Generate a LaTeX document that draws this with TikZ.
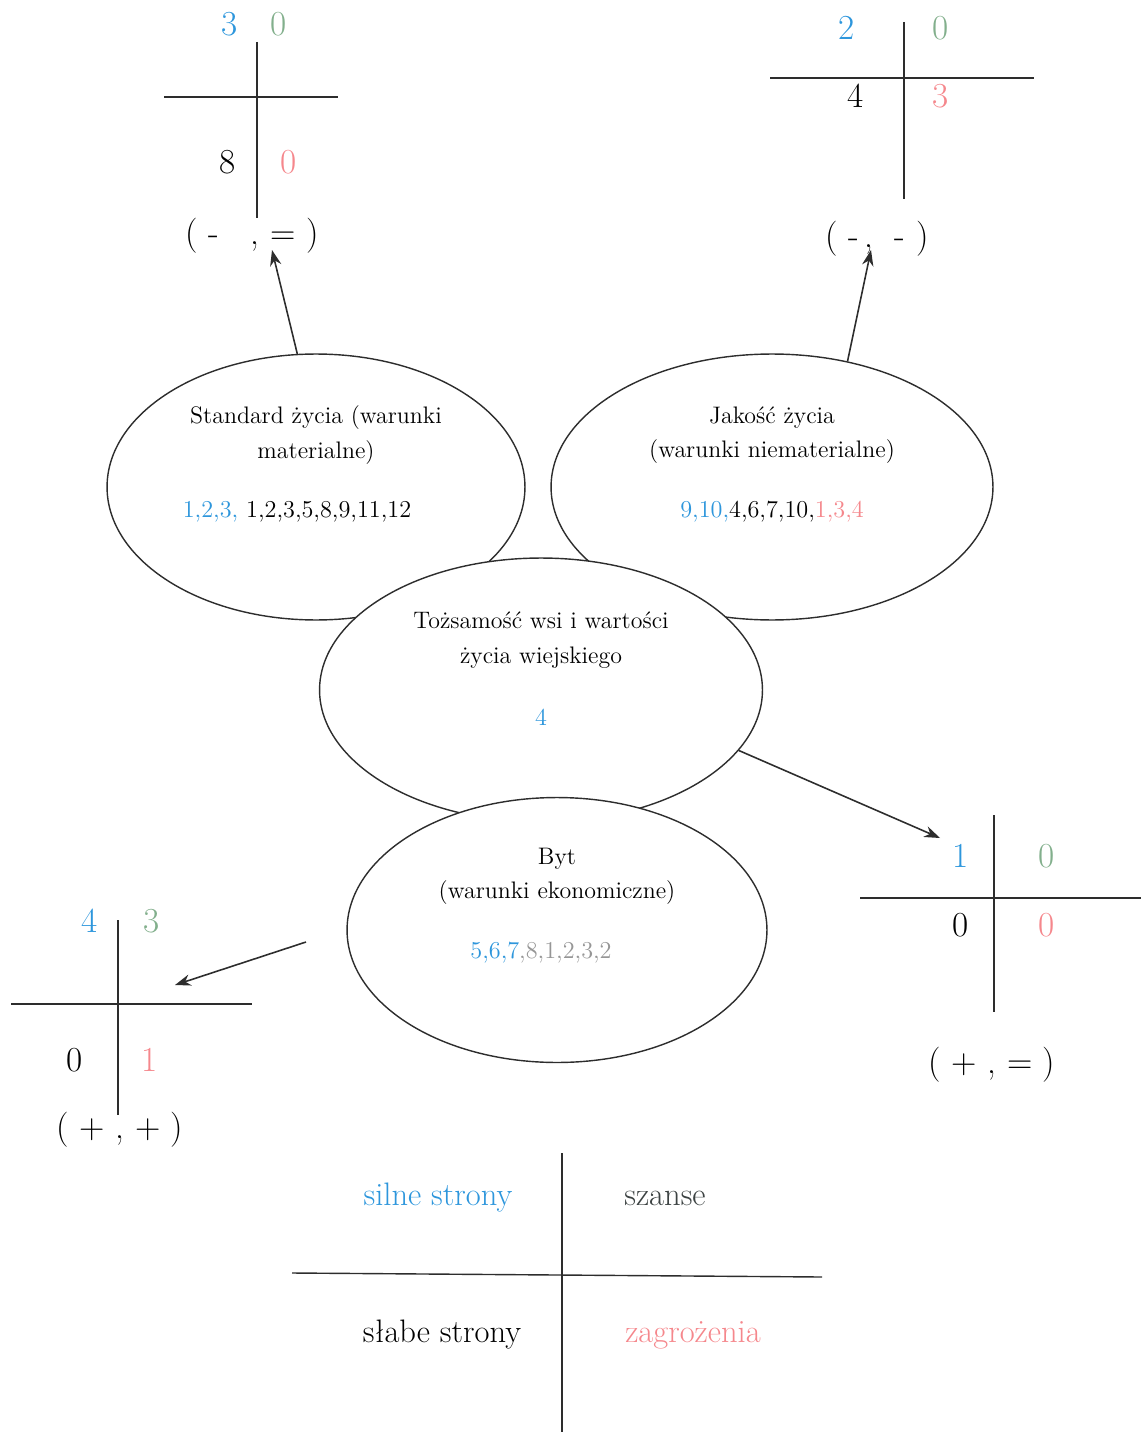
\documentclass[tikz,border=0pt]{standalone}
\usepackage{fontspec}
\usepackage{xcolor}
\definecolor{swotblue}{RGB}{45,150,220}
\definecolor{swotgreen}{RGB}{130,175,140}
\definecolor{swotpink}{RGB}{245,135,140}
\definecolor{swotgray}{RGB}{150,150,150}
\definecolor{swotdark}{RGB}{60,66,66}
\definecolor{linec}{RGB}{45,45,45}
\usetikzlibrary{shapes.geometric,arrows.meta}
\tikzset{
  oval/.style={ellipse, draw=linec, line width=0.8pt, fill=white, inner sep=0pt},
  otitle/.style={align=center, inner sep=0pt, font=\fontsize{13.6}{19.5}\selectfont},
  onums/.style={inner sep=0pt, font=\fontsize{13.8}{16}\selectfont},
  qnum/.style={inner sep=0pt, font=\fontsize{20}{24}\selectfont},
  qline/.style={line width=0.8pt, draw=linec},
  tuple/.style={inner sep=1pt, font=\fontsize{20}{24}\selectfont},
  legend/.style={inner sep=0pt, font=\fontsize{18.5}{22}\selectfont},
}

\begin{document}
\begin{tikzpicture}[
  x=0.02cm, y=-0.02cm,
  arr/.style={-{Stealth[length=9pt,width=6.5pt]}, line width=0.9pt, linec}
]
  \useasboundingbox (0,0) rectangle (1141,1432);

  % ellipses, later ones cover the lower parts of earlier ones
  \node[oval, minimum width=8.36cm, minimum height=5.32cm] (std) at (316,487) {};
  \node[oval, minimum width=8.84cm, minimum height=5.32cm] (jak) at (772,487) {};
  \node[oval, minimum width=8.86cm, minimum height=5.28cm] (toz) at (541,690) {};
  \node[oval, minimum width=8.40cm, minimum height=5.30cm] (byt) at (557,930) {};

  \node[otitle] (stdT) at (316,435) {Standard życia (warunki\\materialne)};
  \node[onums] (stdN) at (297,512) {\textcolor{swotblue}{1,2,3,} 1,2,3,5,8,9,11,12};
  \node[otitle] (jakT) at (772,435) {Jakość życia\\(warunki niematerialne)};
  \node[onums] (jakN) at (772,512) {\textcolor{swotblue}{9,10,}4,6,7,10,\textcolor{swotpink}{1,3,4}};
  \node[otitle] (tozT) at (541,640) {Tożsamość wsi i wartości\\życia wiejskiego};
  \node[onums, text=swotblue] (tozN) at (541,717) {4};
  \node[otitle] (bytT) at (557,876) {Byt\\(warunki ekonomiczne)};
  \node[onums] (bytN) at (541,953) {\textcolor{swotblue}{5,6,7}\textcolor{swotgray}{,8,1,2,3,2}};

  % cross top left
  \draw[qline] (257,42) -- (257,218);
  \draw[qline] (164,97) -- (338,97);
  \node[qnum, text=swotblue] (a1) at (230,24) {3};
  \node[qnum, text=swotgreen] (a2) at (279,24) {0};
  \node[qnum] (a3) at (228,162) {8};
  \node[qnum, text=swotpink] (a4) at (289,162) {0};
  \node[tuple] (tupA) at (252,236) {(\ -\ \ \ ,\ =\ )};

  % cross top right
  \draw[qline] (904,22) -- (904,199);
  \draw[qline] (770,78) -- (1034,78);
  \node[qnum, text=swotblue] (b1) at (847,28) {2};
  \node[qnum, text=swotgreen] (b2) at (941,28) {0};
  \node[qnum] (b3) at (856,96) {4};
  \node[qnum, text=swotpink] (b4) at (941,96) {3};
  \node[tuple] (tupB) at (877,239) {(\ -\,,\ \ -\ )};

  % cross right
  \draw[qline] (994,815) -- (994,1012);
  \draw[qline] (860,898) -- (1141,898);
  \node[qnum, text=swotblue] (c1) at (961,856) {1};
  \node[qnum, text=swotgreen] (c2) at (1047,856) {0};
  \node[qnum] (c3) at (961,925) {0};
  \node[qnum, text=swotpink] (c4) at (1047,925) {0};
  \node[tuple] (tupC) at (992,1065) {( + , = )};

  % cross bottom left
  \draw[qline] (118,920) -- (118,1115);
  \draw[qline] (11,1004) -- (252,1004);
  \node[qnum, text=swotblue] (d1) at (90,921) {4};
  \node[qnum, text=swotgreen] (d2) at (152,921) {3};
  \node[qnum] (d3) at (75,1060) {0};
  \node[qnum, text=swotpink] (d4) at (150,1060) {1};
  \node[tuple] (tupD) at (120,1130) {( + , + )};

  % legend
  \draw[qline] (562,1153) -- (562,1432);
  \draw[qline] (292,1273) -- (822,1277);
  \node[legend, text=swotblue] (lS) at (438,1198) {silne strony};
  \node[legend, text=swotdark] (lO) at (665,1198) {szanse};
  \node[legend] (lW) at (442,1335) {słabe strony};
  \node[legend, text=swotpink] (lT) at (693,1335) {zagrożenia};

  \coordinate (tipA) at (272,250);
  \coordinate (tipB) at (871,250);
  \coordinate (tipC) at (940,838);
  \coordinate (bytA) at (306,942);
  \coordinate (tipD) at (175,985);
  \foreach \a/\b in {std.98/tipA, jak.59/tipB, toz.-17/tipC, bytA/tipD}
    \draw[arr] (\a) -- (\b);
\end{tikzpicture}
\end{document}
